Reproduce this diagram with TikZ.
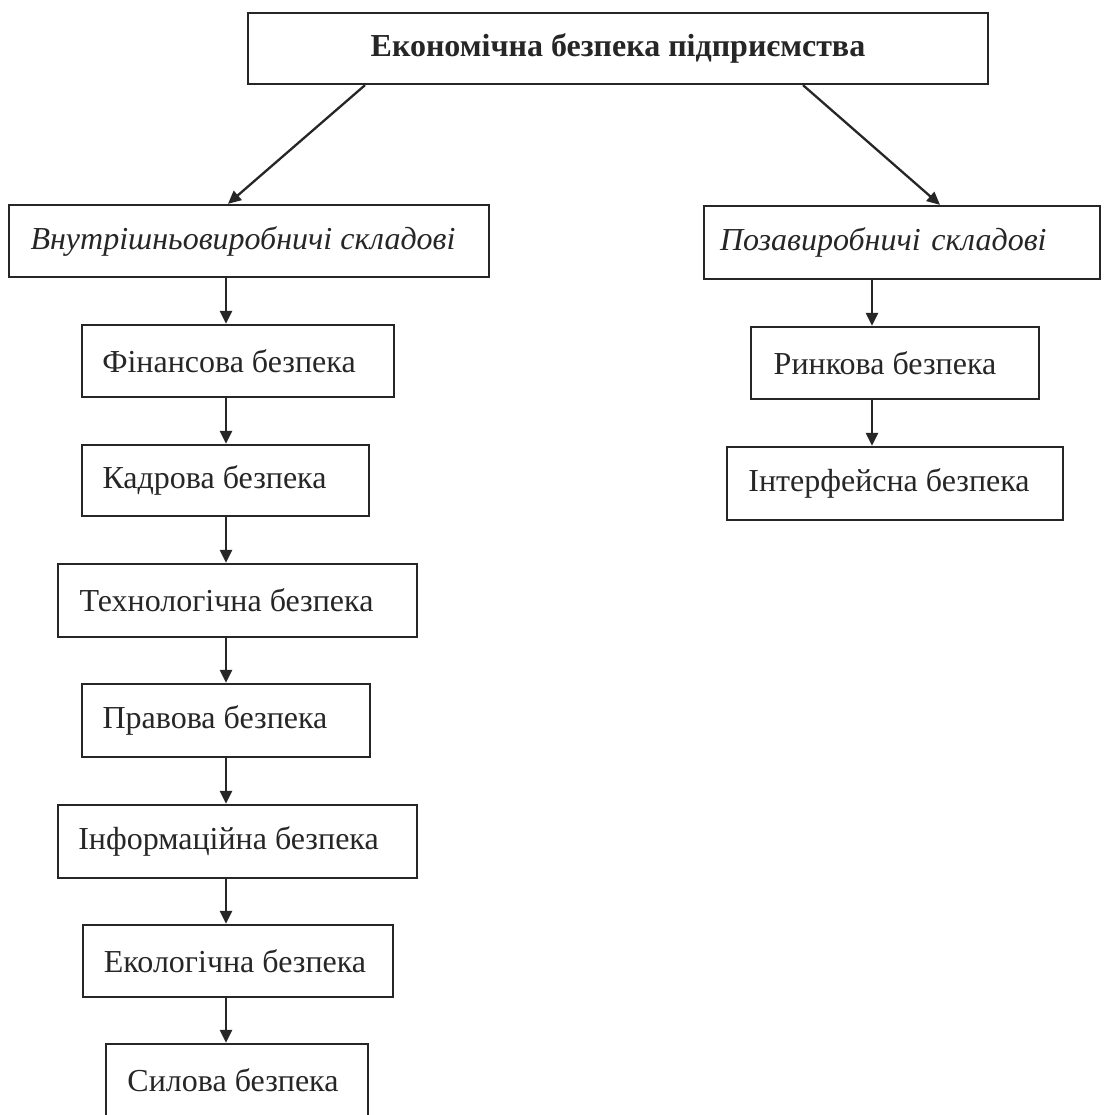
\documentclass[tikz,border=0pt]{standalone}
\usepackage{fontspec}
\setmainfont{Liberation Serif}
\usetikzlibrary{arrows.meta}
\newcommand{\lsh}[1]{\kern#1pt}
\begin{document}
\begin{tikzpicture}[x=1pt,y=-1pt,
  box/.style={draw=black!85, line width=2.3pt, inner sep=0pt, minimum height=72pt,
    text=black!85, font=\fontsize{32}{38}\selectfont},
  arr/.style={draw=black!85, line width=2.3pt, -{Triangle[width=12pt,length=13pt]}}]
\clip (0,0) rectangle (1105,1115);
\fill[white] (0,0) rectangle (1105,1115);

\node[box, minimum width=740pt, minimum height=71pt] (top) at (618,48.5) {\bfseries Економічна безпека підприємства};

\node[box, minimum width=480pt] (cat1) at (249,241) {\itshape Внутрішньовиробничі складові\lsh{12}};
\node[box, text width=364pt, align=left, inner xsep=16pt, minimum height=73pt] (cat2) at (902,242.5) {\itshape Позавиробничі складові};

\node[box, minimum width=312pt] (fin) at (238,361) {Фінансова безпека\lsh{18}};
\node[box, minimum width=287pt, minimum height=71pt] (kad) at (225.5,480.5) {Кадрова безпека\lsh{22}};
\node[box, minimum width=359pt, minimum height=73pt] (tech) at (237.5,600.5) {Технологічна безпека\lsh{22}};
\node[box, minimum width=288pt, minimum height=73pt] (prav) at (226,720.5) {Правова безпека\lsh{22}};
\node[box, minimum width=359pt, minimum height=73pt] (inf) at (237.5,841.5) {Інформаційна безпека\lsh{18}};
\node[box, minimum width=310pt] (eko) at (238,961) {Екологічна безпека\lsh{6}};
\node[box, minimum width=262pt, minimum height=73pt] (sil) at (237,1080.5) {Силова безпека\lsh{8}};

\node[box, minimum width=288pt] (rin) at (895,363) {Ринкова безпека\lsh{20}};
\node[box, minimum width=336pt, minimum height=73pt] (intf) at (895,483.5) {Інтерфейсна безпека\lsh{12}};

\coordinate (lx) at (226,0);
\coordinate (rx) at (872,0);
\coordinate (d1) at (365,0);
\coordinate (d2) at (228,0);
\coordinate (d3) at (803,0);
\coordinate (d4) at (940,0);

\draw[arr] (top.south -| d1) -- (cat1.north -| d2);
\draw[arr] (top.south -| d3) -- (cat2.north -| d4);

\draw[arr] (cat1.south -| lx) -- (fin.north -| lx);
\draw[arr] (fin.south -| lx) -- (kad.north -| lx);
\draw[arr] (kad.south -| lx) -- (tech.north -| lx);
\draw[arr] (tech.south -| lx) -- (prav.north -| lx);
\draw[arr] (prav.south -| lx) -- (inf.north -| lx);
\draw[arr] (inf.south -| lx) -- (eko.north -| lx);
\draw[arr] (eko.south -| lx) -- (sil.north -| lx);

\draw[arr] (cat2.south -| rx) -- (rin.north -| rx);
\draw[arr] (rin.south -| rx) -- (intf.north -| rx);
\end{tikzpicture}
\end{document}
